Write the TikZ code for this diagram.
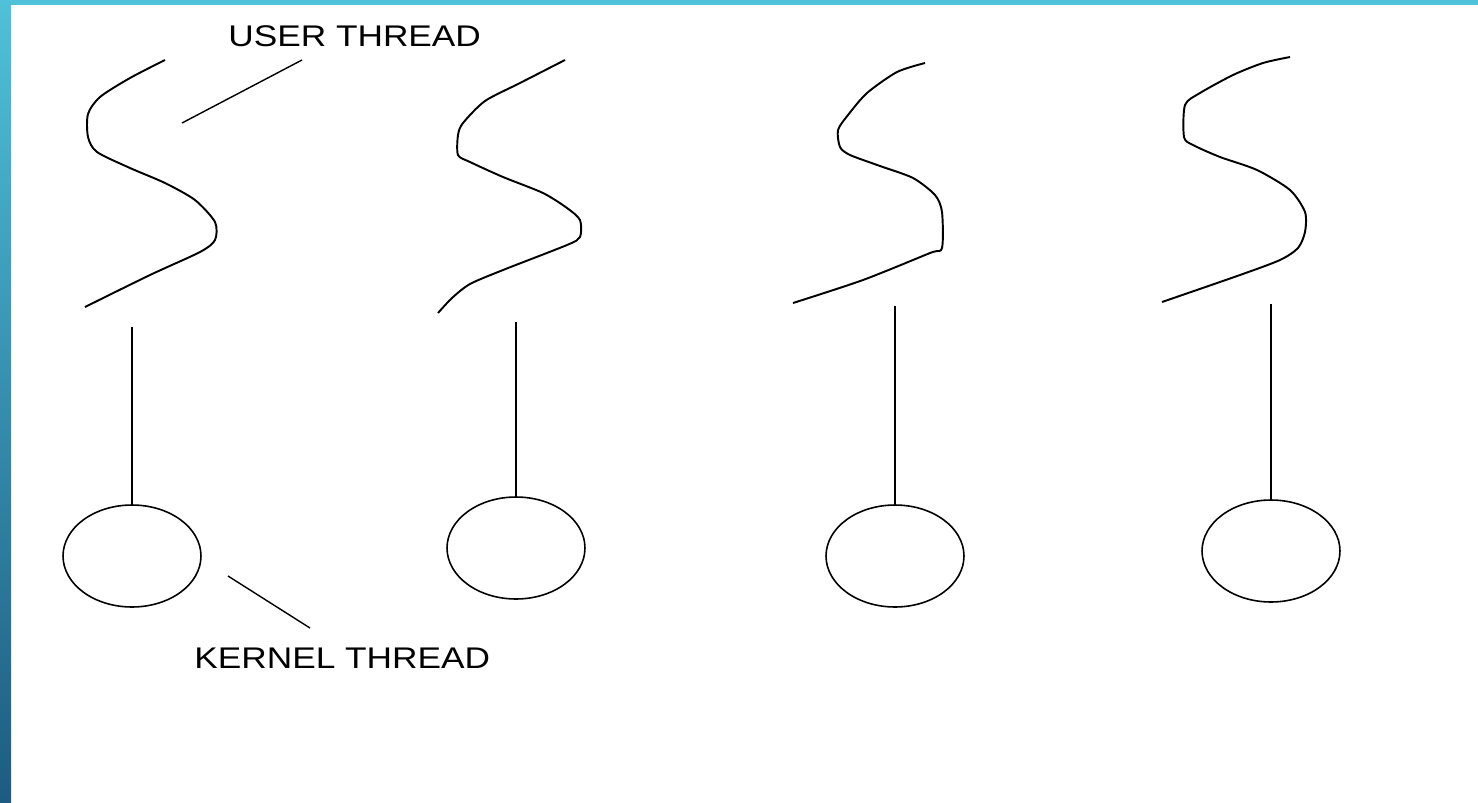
\documentclass[tikz,border=0pt]{standalone}
\usepackage{fontspec}
\setmainfont{Liberation Sans}
\usetikzlibrary{shapes.geometric}

\definecolor{barlight}{HTML}{4FC1D9}
\definecolor{bardark}{HTML}{1D5B82}

\tikzset{
  uthread/.style={line width=1.1pt, line join=round, smooth, tension=0.45},
  kthread/.style={draw, ellipse, line width=0.9pt, minimum width=2.76cm,
    minimum height=2.04cm, inner sep=0pt},
  link/.style={line width=1pt},
  pointer/.style={line width=0.8pt},
  tag/.style={font=\fontsize{17}{20}\selectfont, inner sep=0pt, anchor=base west}
}

\begin{document}
\begin{tikzpicture}[x=0.02cm, y=-0.02cm]
  % 1. frame (one unit = one pixel, y going down)
  \useasboundingbox (0,0) rectangle (1478,802);
  \fill[white] (0,0) rectangle (1478,802);
  \fill[barlight] (0,0) rectangle (1478,5);
  \shade[top color=barlight, bottom color=bardark] (0,0) rectangle (11,802);

  % 2. user threads (wavy lines)
  \draw[uthread] plot coordinates {(165,60) (130,78) (100,97) (88,114) (88,137)
    (97,152) (130,168) (165,183) (195,200) (215,222) (215,240) (200,252)
    (150,275) (85,307)};
  \draw[uthread] plot coordinates {(565,60) (520,83) (485,101) (463,123) (458,135)
    (458,155) (470,162) (503,177) (543,193) (567,208) (580,220) (580,237)
    (567,245) (503,270) (470,284) (452,298) (438,313)};
  \draw[uthread] plot coordinates {(925,63) (897,72) (867,93) (848,115) (838,130)
    (840,147) (850,155) (880,166) (913,178) (935,195) (942,212) (942,248)
    (930,253) (863,280) (793,303)};
  \draw[uthread] plot coordinates {(1290,57) (1263,63) (1233,75) (1200,93)
    (1185,105) (1184,137) (1193,145) (1220,157) (1257,170) (1290,190)
    (1305,212) (1305,232) (1298,248) (1280,260) (1240,275) (1162,302)};

  % 3. kernel threads
  \node[kthread] (k1) at (132,556) {};
  \node[kthread] (k2) at (516,548) {};
  \node[kthread] (k3) at (895,556) {};
  \node[kthread] (k4) at (1271,551) {};

  % 4. one-to-one links
  \coordinate (u1) at (132,327);
  \coordinate (u2) at (516,322);
  \coordinate (u3) at (895,306);
  \coordinate (u4) at (1271,304);
  \foreach \i in {1,...,4} {
    \draw[link] (u\i) -- (k\i.north);
  }

  % 5. labels and their pointers
  \node[tag] (userlbl) at (228,46) {\scalebox{1.18}[1]{USER THREAD}};
  \node[tag] (kernlbl) at (194,668) {\scalebox{1.18}[1]{KERNEL THREAD}};
  \coordinate (up1) at (182,123);
  \coordinate (up2) at (302,60);
  \draw[pointer] (up1) -- (up2);
  \coordinate (kp1) at (228,576);
  \coordinate (kp2) at (310,628);
  \draw[pointer] (kp1) -- (kp2);
\end{tikzpicture}
\end{document}
